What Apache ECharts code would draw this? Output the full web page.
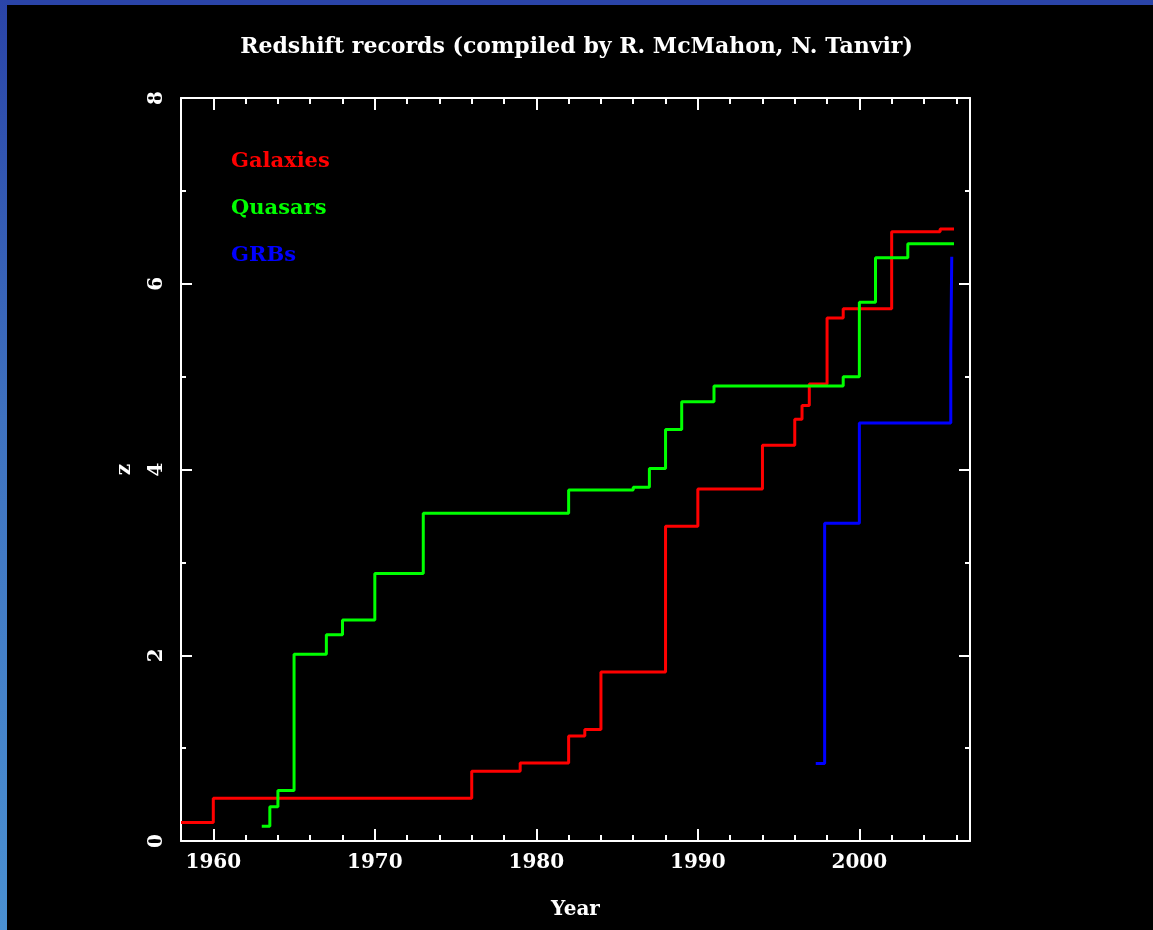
<!DOCTYPE html>
<html>
<head>
<meta charset="utf-8">
<script src="https://cdn.jsdelivr.net/npm/echarts@6/dist/echarts.min.js"></script>
<style>
html,body{margin:0;padding:0;background:#000;}
#chart{width:1153px;height:930px;}
</style>
</head>
<body>
<div id="chart"></div>
<script>
// Redshift records: [year, z] points where a new record starts
const galaxies = [
  [1958, 0.20], [1960, 0.46], [1976, 0.75], [1979, 0.84], [1982, 1.13], [1983, 1.20],
  [1984, 1.82], [1988, 3.39], [1990, 3.79], [1994, 4.26], [1996, 4.54], [1996.45, 4.69],
  [1996.9, 4.92], [1998, 5.63], [1999, 5.73], [2002, 6.56], [2005, 6.59], [2005.86, 6.59]
];
const quasars = [
  [1963, 0.158], [1963.5, 0.37], [1964, 0.545], [1965, 2.01], [1967, 2.22], [1968, 2.38],
  [1970, 2.88], [1973, 3.53], [1982, 3.78], [1986, 3.81], [1987, 4.01], [1988, 4.43],
  [1989, 4.73], [1991, 4.90], [1999, 5.00], [2000, 5.80], [2001, 6.28], [2003, 6.43],
  [2005.86, 6.43]
];
const grbs = [
  [1997.3, 0.835], [1997.85, 3.42], [2000, 4.50], [2005.66, 5.29], [2005.72, 6.29], [2005.76, 6.29]
];
const seriesNames = ['Galaxies', 'Quasars', 'GRBs'];
const seriesColors = ['#ff0000', '#00ff00', '#0000ff'];
const xMajorTicks = [1960, 1970, 1980, 1990, 2000];
const xMinorTicks = [1958,1960,1962,1964,1966,1968,1970,1972,1974,1976,1978,1980,1982,1984,1986,1988,1990,1992,1994,1996,1998,2000,2002,2004,2006];
const yMajorTicks = [0, 2, 4, 6, 8];
const yMinorTicks = [1, 3, 5, 7];
const titleText = 'Redshift records (compiled by R. McMahon, N. Tanvir)';

const FONT = 'DejaVu Serif';
const X_MIN = 1958, X_MAX = 2006.85;

function xAxisDef(pos, ticks, len, labels, showLine) {
  return {
    type: 'value', position: pos, min: X_MIN, max: X_MAX,
    axisLine: { show: showLine, onZero: false, lineStyle: { color: '#fff', width: 2 } },
    axisTick: { show: true, inside: true, length: len, customValues: ticks, lineStyle: { color: '#fff', width: 2 } },
    axisLabel: labels ? { show: true, customValues: xMajorTicks, formatter: v => String(v), color: '#fff', fontFamily: FONT, fontWeight: 'bold', fontSize: 20, margin: 12 } : { show: false },
    splitLine: { show: false }
  };
}
function yAxisDef(pos, ticks, len, labels, showLine) {
  return {
    type: 'value', position: pos, min: 0, max: 8,
    axisLine: { show: showLine, onZero: false, lineStyle: { color: '#fff', width: 2 } },
    axisTick: { show: true, inside: true, length: len, customValues: ticks, lineStyle: { color: '#fff', width: 2 } },
    axisLabel: labels ? { show: true, customValues: yMajorTicks, formatter: v => String(v), rotate: 90, color: '#fff', fontFamily: FONT, fontWeight: 'bold', fontSize: 20, margin: 14 } : { show: false },
    splitLine: { show: false }
  };
}

const xAxes = [
  Object.assign(xAxisDef('bottom', xMajorTicks, 12, true, true), {
    name: 'Year', nameLocation: 'middle', nameGap: 59,
    nameTextStyle: { color: '#fff', fontFamily: FONT, fontWeight: 'bold', fontSize: 20 }
  }),
  xAxisDef('bottom', xMinorTicks, 6, false, false),
  xAxisDef('top', xMajorTicks, 12, false, true),
  xAxisDef('top', xMinorTicks, 6, false, false)
];
const yAxes = [
  Object.assign(yAxisDef('left', yMajorTicks, 11, true, true), {
    name: 'z', nameLocation: 'middle', nameGap: 46, nameRotate: 90,
    nameTextStyle: { color: '#fff', fontFamily: FONT, fontWeight: 'bold', fontSize: 20 }
  }),
  yAxisDef('left', yMinorTicks, 5, false, false),
  yAxisDef('right', yMajorTicks, 11, false, true),
  yAxisDef('right', yMinorTicks, 5, false, false)
];

const dataSets = [galaxies, quasars, grbs];
const series = dataSets.map((d, i) => ({
  name: seriesNames[i], type: 'line', step: 'end', data: d,
  xAxisIndex: 0, yAxisIndex: 0, showSymbol: false, symbol: 'none',
  lineStyle: { color: seriesColors[i], width: 3 }, itemStyle: { color: seriesColors[i] },
  clip: true
}));

const chart = echarts.init(document.getElementById('chart'), null, { renderer: 'canvas' });
chart.setOption({
  backgroundColor: '#000',
  animation: false,
  title: {
    text: titleText, left: 'center', top: 31,
    textStyle: { color: '#fff', fontFamily: FONT, fontWeight: 'bold', fontSize: 22 }
  },
  legend: {
    orient: 'vertical', left: 226, top: 150, padding: 0, itemGap: 23,
    itemWidth: 0, itemHeight: 0, selectedMode: false,
    data: seriesNames.map((n, i) => ({ name: n, icon: 'rect', textStyle: { color: seriesColors[i] } })),
    textStyle: { fontFamily: FONT, fontWeight: 'bold', fontSize: 21, lineHeight: 24 }
  },
  grid: { left: 181, right: 183, top: 98, bottom: 89, containLabel: false },
  xAxis: xAxes,
  yAxis: yAxes,
  series: series,
  graphic: [
    { type: 'rect', left: 0, top: 0, z: 100, shape: { width: 1153, height: 5 }, style: { fill: '#2a44a8' } },
    { type: 'rect', left: 0, top: 0, z: 100, shape: { width: 7, height: 930 },
      style: { fill: new echarts.graphic.LinearGradient(0, 0, 0, 1, [
        { offset: 0, color: '#2a44a8' }, { offset: 0.45, color: '#3f72c0' }, { offset: 1, color: '#4a90d2' }
      ]) } }
  ]
});
</script>
</body>
</html>
